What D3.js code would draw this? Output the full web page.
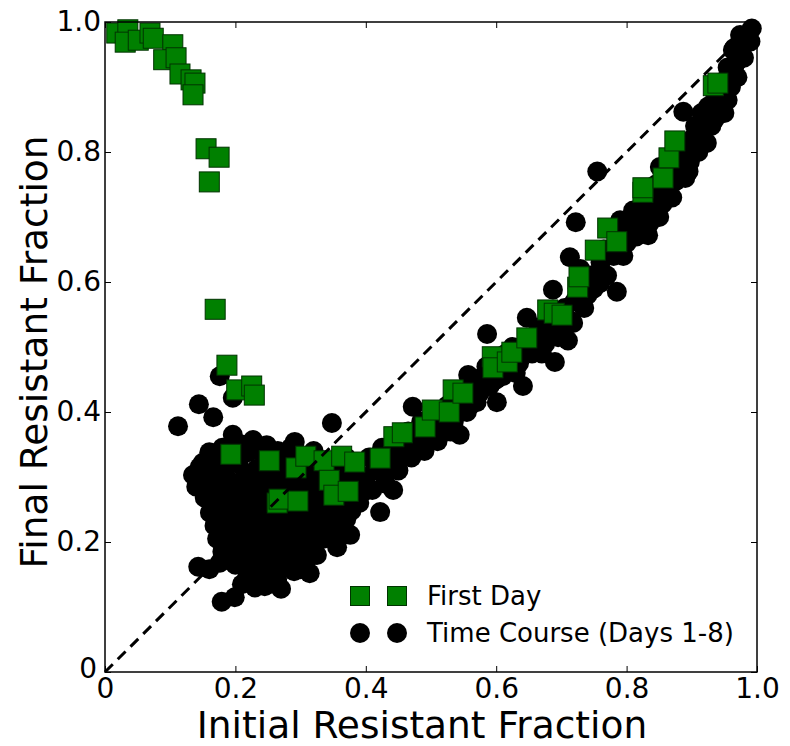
<!DOCTYPE html>
<html><head><meta charset="utf-8">
<script src="https://cdn.jsdelivr.net/npm/d3@7"></script>
<style>body{margin:0;background:#fff}svg text{font-family:"DejaVu Sans",sans-serif;fill:#000}</style>
</head><body><svg id="c" width="790" height="746"></svg>
<script>
// ---- data ----
const xTicks = [0, 0.2, 0.4, 0.6, 0.8, 1.0];
const xTickLabels = ["0", "0.2", "0.4", "0.6", "0.8", "1.0"];
const yTicks = [0, 0.2, 0.4, 0.6, 0.8, 1.0];
const yTickLabels = ["0", "0.2", "0.4", "0.6", "0.8", "1.0"];
const seriesNames = ["First Day", "Time Course (Days 1-8)"];
const xLabel = "Initial Resistant Fraction";
const yLabel = "Final Resistant Fraction";

// Time course (days 1-8): [initial, final]
const timeCourse = [
  [0.112,0.378],[0.144,0.412],[0.166,0.392],[0.196,0.422],[0.176,0.455],[0.348,0.383],
  [0.196,0.365],[0.227,0.357],[0.248,0.349],[0.291,0.354],[0.21,0.35],[0.265,0.34],[0.18,0.345],
  [0.235,0.345],[0.285,0.345],[0.16,0.338],
  [0.15,0.322],[0.17,0.33],[0.195,0.335],[0.22,0.338],[0.245,0.33],[0.275,0.335],[0.30,0.33],[0.32,0.34],
  [0.145,0.315],[0.172,0.32],[0.198,0.325],[0.245,0.322],[0.27,0.325],[0.295,0.32],[0.322,0.325],[0.345,0.322],
  [0.135,0.303],[0.16,0.31],[0.185,0.315],[0.205,0.32],[0.232,0.312],[0.258,0.318],[0.283,0.31],[0.31,0.315],[0.335,0.31],[0.355,0.318],
  [0.152,0.298],[0.178,0.302],[0.228,0.305],[0.252,0.302],[0.278,0.305],[0.302,0.302],[0.328,0.3],[0.35,0.305],[0.375,0.3],
  [0.14,0.285],[0.165,0.29],[0.19,0.295],[0.215,0.3],[0.24,0.29],[0.265,0.296],[0.29,0.288],[0.315,0.295],[0.34,0.29],[0.362,0.296],
  [0.158,0.278],[0.185,0.282],[0.21,0.285],[0.235,0.28],[0.26,0.284],[0.285,0.278],[0.31,0.282],[0.333,0.28],[0.358,0.285],[0.383,0.28],
  [0.153,0.268],[0.175,0.272],[0.2,0.276],[0.222,0.268],[0.248,0.275],[0.272,0.27],[0.298,0.278],[0.322,0.268],[0.345,0.275],[0.37,0.27],
  [0.165,0.258],[0.19,0.262],[0.212,0.264],[0.238,0.26],[0.262,0.262],[0.288,0.26],[0.312,0.265],[0.338,0.262],[0.362,0.262],
  [0.161,0.245],[0.185,0.25],[0.21,0.255],[0.235,0.248],[0.26,0.252],[0.285,0.246],[0.308,0.255],[0.33,0.25],[0.352,0.256],[0.378,0.248],
  [0.175,0.238],[0.2,0.24],[0.225,0.242],[0.25,0.238],[0.275,0.24],[0.298,0.238],[0.322,0.24],[0.345,0.24],[0.37,0.235],
  [0.168,0.225],[0.19,0.23],[0.215,0.228],[0.24,0.232],[0.265,0.225],[0.29,0.23],[0.315,0.226],[0.338,0.232],[0.36,0.228],
  [0.18,0.215],[0.205,0.218],[0.228,0.215],[0.252,0.22],[0.278,0.215],[0.302,0.218],[0.326,0.214],[0.35,0.215],
  [0.172,0.205],[0.198,0.208],[0.222,0.202],[0.248,0.21],[0.272,0.204],[0.296,0.208],[0.32,0.2],[0.356,0.192],[0.376,0.211],
  [0.185,0.196],[0.21,0.195],[0.235,0.196],[0.26,0.198],[0.285,0.195],[0.308,0.196],[0.335,0.205],
  [0.18,0.185],[0.205,0.188],[0.23,0.182],[0.255,0.19],[0.278,0.184],[0.3,0.19],[0.325,0.18],
  [0.19,0.175],[0.215,0.17],[0.242,0.178],[0.268,0.18],[0.29,0.18],[0.312,0.176],
  [0.143,0.162],[0.176,0.168],[0.218,0.177],[0.2,0.165],[0.24,0.165],[0.262,0.17],[0.284,0.172],[0.304,0.168],[0.314,0.152],
  [0.23,0.155],[0.255,0.158],[0.275,0.16],[0.3,0.158],
  [0.218,0.146],[0.248,0.146],[0.264,0.142],[0.23,0.13],[0.179,0.108],[0.199,0.115],[0.16,0.158],[0.29,0.155],
  [0.21,0.135],[0.245,0.132],[0.27,0.128],
  [0.355,0.30],[0.365,0.26],[0.37,0.33],[0.38,0.29],[0.385,0.31],[0.39,0.26],
  [0.40,0.30],[0.405,0.33],[0.41,0.28],[0.422,0.246],[0.42,0.31],[0.425,0.345],[0.43,0.29],[0.442,0.28],[0.396,0.277],
  [0.44,0.33],[0.445,0.35],[0.45,0.31],[0.46,0.345],[0.465,0.37],[0.47,0.33],[0.472,0.408],
  [0.48,0.36],[0.485,0.385],[0.49,0.34],[0.50,0.37],[0.505,0.39],[0.51,0.355],
  [0.52,0.39],[0.525,0.41],[0.53,0.37],[0.54,0.40],[0.544,0.365],[0.55,0.42],
  [0.557,0.457],[0.56,0.41],[0.565,0.44],[0.575,0.43],[0.58,0.455],[0.586,0.52],[0.585,0.47],
  [0.60,0.45],[0.601,0.415],[0.605,0.48],[0.62,0.47],[0.625,0.50],[0.63,0.46],
  [0.641,0.44],[0.64,0.49],[0.647,0.545],[0.65,0.51],[0.66,0.50],[0.665,0.53],[0.67,0.49],
  [0.68,0.52],[0.687,0.588],[0.685,0.545],[0.69,0.477],[0.70,0.53],[0.705,0.56],[0.71,0.51],
  [0.718,0.537],[0.72,0.57],[0.725,0.59],[0.722,0.692],[0.729,0.62],[0.74,0.58],[0.745,0.61],[0.713,0.638],
  [0.759,0.598],[0.76,0.63],[0.765,0.65],[0.755,0.77],[0.785,0.585],[0.78,0.64],[0.785,0.67],[0.79,0.695],
  [0.80,0.66],[0.805,0.69],[0.81,0.71],[0.82,0.68],[0.825,0.71],[0.833,0.672],[0.83,0.73],
  [0.84,0.72],[0.845,0.75],[0.85,0.70],[0.851,0.777],[0.86,0.74],[0.865,0.77],[0.87,0.73],
  [0.88,0.78],[0.887,0.862],[0.885,0.80],[0.89,0.76],[0.897,0.785],[0.90,0.82],[0.905,0.84],[0.91,0.80],
  [0.923,0.814],[0.92,0.85],[0.925,0.87],[0.93,0.84],[0.94,0.87],[0.945,0.89],[0.95,0.86],[0.95,0.91],
  [0.96,0.90],[0.963,0.957],[0.965,0.93],[0.97,0.915],[0.974,0.98],[0.975,0.95],[0.98,0.965],[0.985,0.975],[0.992,0.99],
  [0.375,0.315],[0.395,0.295],[0.415,0.31],[0.435,0.31],[0.455,0.33],[0.475,0.35],[0.495,0.36],[0.515,0.375],
  [0.535,0.385],[0.555,0.40],[0.57,0.415],[0.59,0.44],[0.61,0.455],[0.615,0.49],[0.635,0.475],[0.655,0.49],
  [0.675,0.505],[0.695,0.515],[0.695,0.545],[0.715,0.54],[0.735,0.56],[0.735,0.60],[0.75,0.59],[0.77,0.61],
  [0.77,0.65],[0.795,0.64],[0.795,0.67],[0.815,0.67],[0.815,0.695],[0.835,0.69],[0.84,0.745],[0.855,0.72],
  [0.875,0.755],[0.875,0.79],[0.895,0.77],[0.895,0.81],[0.915,0.82],[0.915,0.86],[0.935,0.85],[0.935,0.88],
  [0.955,0.88],[0.955,0.93],[0.97,0.94],[0.98,0.945],[0.99,0.97],[0.965,0.96]
];

// First day: [initial, final]
const firstDay = [
  [0.018,0.983],[0.035,0.988],[0.031,0.969],[0.051,0.972],[0.069,0.983],[0.074,0.975],
  [0.104,0.965],[0.09,0.942],[0.109,0.945],[0.115,0.92],[0.132,0.911],[0.138,0.906],[0.135,0.888],
  [0.155,0.805],[0.175,0.792],[0.16,0.754],[0.169,0.558],[0.187,0.472],[0.202,0.434],[0.225,0.44],[0.229,0.426],
  [0.193,0.335],[0.252,0.325],[0.293,0.314],[0.308,0.332],[0.336,0.325],[0.363,0.332],[0.383,0.323],
  [0.344,0.295],[0.351,0.272],[0.373,0.278],[0.264,0.26],[0.267,0.266],[0.296,0.263],
  [0.422,0.329],[0.443,0.362],[0.456,0.368],
  [0.491,0.377],[0.502,0.403],[0.528,0.40],[0.534,0.434],[0.549,0.429],
  [0.594,0.485],[0.595,0.468],[0.617,0.477],[0.624,0.492],[0.647,0.514],
  [0.679,0.557],[0.689,0.552],[0.701,0.549],[0.725,0.592],[0.727,0.608],
  [0.752,0.649],[0.771,0.683],[0.785,0.662],[0.825,0.738],[0.825,0.745],
  [0.856,0.76],[0.865,0.791],[0.874,0.817],[0.933,0.902],[0.94,0.906]
];

// ---- drawing ----
const svg = d3.select("#c");
const L = 105, R = 757, T = 22, B = 672;
const x = d3.scaleLinear().domain([0, 1]).range([L, R]);
const y = d3.scaleLinear().domain([0, 1]).range([B, T]);
const FS = 28;

const gx = svg.append("g").attr("transform", `translate(0,${B})`)
  .call(d3.axisBottom(x).tickValues(xTicks).tickSize(-6).tickPadding(6)
    .tickFormat((d, i) => xTickLabels[i]));
const gy = svg.append("g").attr("transform", `translate(${L},0)`)
  .call(d3.axisLeft(y).tickValues(yTicks).tickSize(-6).tickPadding(4)
    .tickFormat((d, i) => yTickLabels[i]));
const gt = svg.append("g").attr("transform", `translate(0,${T})`)
  .call(d3.axisTop(x).tickValues(xTicks).tickSize(-6).tickFormat(""));
const gr = svg.append("g").attr("transform", `translate(${R},0)`)
  .call(d3.axisRight(y).tickValues(yTicks).tickSize(-6).tickFormat(""));
[gx, gy, gt, gr].forEach(g => {
  g.select(".domain").remove();
  g.selectAll(".tick line").attr("stroke", "#000").attr("stroke-width", 1);
  g.selectAll(".tick text").style("font-family", "DejaVu Sans").style("font-size", FS + "px").attr("fill", "#000");
});
// the y-axis "0" sits just left of the x-axis "0"
gy.selectAll(".tick text").filter(d => d === 0).attr("x", -8).attr("dy", "0.2em");

const plot = svg.append("g");
plot.selectAll("circle.tc").data(timeCourse).join("circle")
  .attr("class", "tc")
  .attr("cx", d => x(d[0])).attr("cy", d => y(d[1])).attr("r", 10)
  .attr("fill", "#000");

const S = 20;
plot.selectAll("rect.fd").data(firstDay).join("rect")
  .attr("class", "fd")
  .attr("x", d => x(d[0]) - S / 2).attr("y", d => y(d[1]) - S / 2)
  .attr("width", S).attr("height", S)
  .attr("fill", "#008000").attr("stroke", "#003300").attr("stroke-width", 1);

// identity line
plot.append("line")
  .attr("x1", x(0)).attr("y1", y(0)).attr("x2", x(1)).attr("y2", y(1))
  .attr("stroke", "#000").attr("stroke-width", 3).attr("stroke-dasharray", "11,7");

// frame
svg.append("rect").attr("x", L).attr("y", T).attr("width", R - L).attr("height", B - T)
  .attr("fill", "none").attr("stroke", "#000").attr("stroke-width", 1.5);

// axis titles
svg.append("text").attr("x", 422).attr("y", 738).attr("text-anchor", "middle")
  .style("font-size", "37.5px").text(xLabel);
svg.append("text").attr("transform", `translate(47,352) rotate(-90)`)
  .attr("text-anchor", "middle").style("font-size", "37.5px").text(yLabel);

// legend
const legY = [596, 633];
const leg = svg.append("g");
[360, 397].forEach(cx => {
  leg.append("rect").attr("x", cx - 9.5).attr("y", legY[0] - 9.5).attr("width", 19).attr("height", 19)
    .attr("fill", "#008000").attr("stroke", "#003300").attr("stroke-width", 1);
  leg.append("circle").attr("cx", cx).attr("cy", legY[1]).attr("r", 10).attr("fill", "#000");
});
seriesNames.forEach((n, i) => {
  leg.append("text").attr("x", 427).attr("y", legY[i]).attr("dy", "0.36em")
    .style("font-size", "26px").text(n);
});
</script></body></html>
